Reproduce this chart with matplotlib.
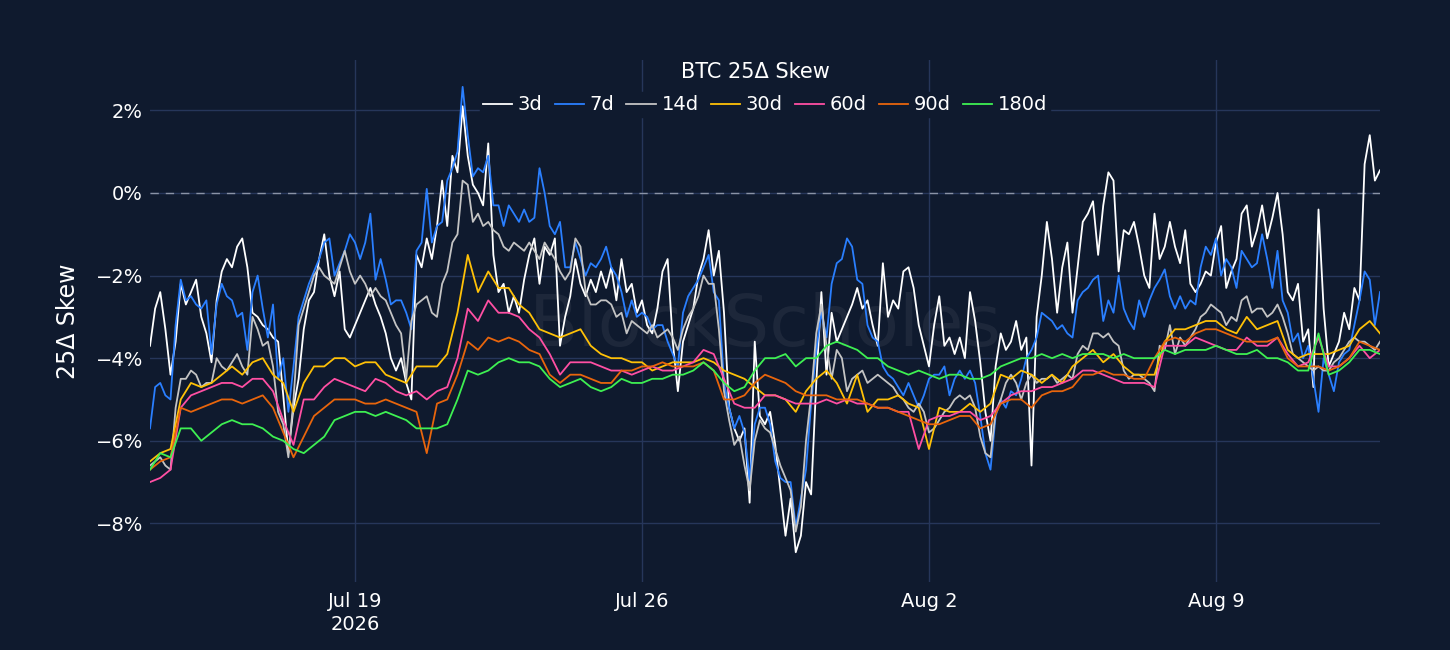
import numpy as np
import pandas as pd
import matplotlib
matplotlib.use("Agg")
import matplotlib.pyplot as plt
from matplotlib.ticker import FuncFormatter, MultipleLocator

# short tenors read every 3 hours, long tenors every 6 hours
# Jul 14 2026 00:00 -> Aug 13 2026 00:00
start = "2026-07-14"

skew_3d = [
    -3.7, -2.8, -2.4, -3.3, -4.4, -3.6, -2.2, -2.7, -2.4, -2.1, -3.0, -3.4,
    -4.1, -2.6, -1.9, -1.6, -1.8, -1.3, -1.1, -1.8, -2.9, -3.0, -3.2, -3.3,
    -3.5, -3.6, -4.9, -6.3, -5.2, -4.5, -3.3, -2.6, -2.4, -1.6, -1.0, -2.0,
    -2.5, -1.9, -3.3, -3.5, -3.2, -2.9, -2.6, -2.3, -2.7, -3.0, -3.4, -4.0,
    -4.3, -4.0, -4.6, -5.0, -1.5, -1.8, -1.1, -1.6, -0.8, 0.3, -0.8, 0.9,
    0.5, 2.1, 0.9, 0.2, 0.0, -0.3, 1.2, -1.5, -2.4, -2.2, -2.9, -2.5,
    -2.9, -2.1, -1.5, -1.1, -2.2, -1.3, -1.5, -1.1, -3.7, -3.0, -2.5, -1.6,
    -2.2, -2.5, -2.1, -2.4, -1.9, -2.3, -1.8, -2.6, -1.6, -2.4, -2.2, -2.9,
    -2.6, -3.2, -3.4, -2.8, -1.9, -1.6, -3.6, -4.8, -3.6, -3.2, -2.8, -2.0,
    -1.6, -0.9, -2.0, -1.4, -2.9, -5.2, -5.7, -6.0, -5.7, -7.5, -3.6, -5.4,
    -5.6, -5.3, -6.1, -7.2, -8.3, -7.4, -8.7, -8.3, -7.0, -7.3, -4.6, -2.4,
    -4.4, -2.9, -3.6, -3.3, -3.0, -2.7, -2.3, -2.8, -2.6, -3.2, -3.7, -1.7,
    -3.0, -2.6, -2.8, -1.9, -1.8, -2.3, -3.2, -3.7, -4.2, -3.2, -2.5, -3.7,
    -3.5, -3.9, -3.5, -4.0, -2.4, -3.1, -4.1, -5.3, -6.0, -4.2, -3.4, -3.8,
    -3.6, -3.1, -3.8, -3.5, -6.6, -3.0, -2.0, -0.7, -1.6, -2.9, -1.8, -1.2,
    -2.9, -1.8, -0.7, -0.5, -0.2, -1.5, -0.3, 0.5, 0.3, -1.9, -0.9, -1.0,
    -0.7, -1.3, -2.0, -2.3, -0.5, -1.6, -1.3, -0.7, -1.3, -1.7, -0.9, -2.2,
    -2.4, -2.2, -1.9, -2.0, -1.2, -0.8, -2.3, -1.9, -1.6, -0.5, -0.3, -1.3,
    -0.9, -0.3, -1.1, -0.6, 0.0, -1.0, -2.4, -2.6, -2.2, -3.6, -3.3, -4.7,
    -0.4, -2.8, -4.2, -3.9, -3.6, -2.9, -3.3, -2.3, -2.6, 0.7, 1.4, 0.3,
    0.55,
]
skew_7d = [
    -5.7, -4.7, -4.6, -4.9, -5.0, -3.2, -2.1, -2.6, -2.5, -2.7, -2.8, -2.6,
    -3.9, -2.7, -2.2, -2.5, -2.6, -3.0, -2.9, -3.8, -2.4, -2.0, -2.8, -3.5,
    -2.7, -4.5, -4.0, -5.3, -4.2, -3.0, -2.6, -2.2, -1.9, -1.6, -1.2, -1.1,
    -2.0, -1.7, -1.4, -1.0, -1.2, -1.6, -1.2, -0.5, -2.1, -1.6, -2.1, -2.7,
    -2.6, -2.6, -2.9, -3.3, -1.4, -1.2, 0.1, -1.2, -0.8, -0.7, 0.3, 0.6,
    1.0, 2.57, 1.4, 0.4, 0.6, 0.5, 0.9, -0.3, -0.3, -0.8, -0.3, -0.5,
    -0.7, -0.4, -0.7, -0.6, 0.6, 0.0, -0.8, -1.0, -0.7, -1.8, -1.8, -1.2,
    -1.6, -2.0, -1.7, -1.8, -1.6, -1.3, -1.8, -2.0, -2.4, -3.0, -2.6, -3.0,
    -2.9, -3.0, -3.3, -3.2, -3.2, -3.6, -3.9, -4.2, -2.9, -2.5, -2.3, -2.1,
    -1.8, -1.5, -2.4, -2.6, -4.6, -5.2, -5.7, -5.4, -5.8, -6.95, -5.6, -5.2,
    -5.2, -5.6, -6.5, -6.9, -7.0, -7.0, -8.1, -7.4, -6.7, -5.1, -3.8, -2.9,
    -3.5, -2.2, -1.7, -1.6, -1.1, -1.3, -2.1, -2.2, -3.2, -3.5, -3.6, -4.2,
    -4.4, -4.5, -4.7, -4.9, -4.6, -4.9, -5.2, -4.9, -4.5, -4.4, -4.4, -4.2,
    -4.9, -4.5, -4.3, -4.5, -4.3, -4.6, -5.4, -6.3, -6.7, -5.4, -5.0, -5.2,
    -4.8, -4.9, -4.5, -4.0, -3.8, -3.5, -2.9, -3.0, -3.1, -3.3, -3.2, -3.4,
    -3.5, -2.6, -2.4, -2.3, -2.1, -2.0, -3.1, -2.6, -2.9, -2.0, -2.8, -3.1,
    -3.3, -2.6, -3.0, -2.6, -2.3, -2.1, -1.85, -2.5, -2.8, -2.5, -2.8, -2.6,
    -2.7, -1.8, -1.3, -1.5, -1.1, -2.0, -1.6, -1.8, -2.3, -1.4, -1.6, -1.8,
    -1.7, -1.0, -1.6, -2.3, -1.4, -2.6, -2.9, -3.6, -3.4, -4.0, -3.7, -4.5,
    -5.3, -4.0, -4.4, -4.8, -4.1, -3.9, -3.8, -3.2, -2.6, -1.9, -2.1, -3.2,
    -2.4,
]
skew_14d = [
    -6.6, -6.5, -6.4, -6.6, -6.7, -5.2, -4.5, -4.5, -4.3, -4.4, -4.7, -4.6,
    -4.6, -4.0, -4.2, -4.3, -4.1, -3.9, -4.2, -4.4, -3.0, -3.3, -3.7, -3.6,
    -4.2, -5.3, -5.6, -6.4, -5.0, -3.2, -2.8, -2.4, -2.0, -1.8, -2.0, -2.1,
    -2.2, -1.8, -1.4, -1.9, -2.2, -2.0, -2.2, -2.5, -2.3, -2.5, -2.6, -2.9,
    -3.2, -3.4, -4.5, -3.1, -2.7, -2.6, -2.5, -2.9, -3.0, -2.2, -1.9, -1.2,
    -1.0, 0.3, 0.2, -0.7, -0.5, -0.8, -0.7, -0.9, -1.0, -1.3, -1.4, -1.2,
    -1.3, -1.4, -1.2, -1.4, -1.6, -1.2, -1.4, -1.6, -1.9, -2.1, -1.9, -1.1,
    -1.3, -2.4, -2.7, -2.7, -2.6, -2.6, -2.7, -3.0, -2.9, -3.4, -3.1, -3.2,
    -3.3, -3.4, -3.2, -3.5, -3.4, -3.3, -3.5, -3.8, -3.3, -3.0, -2.8, -2.5,
    -2.0, -2.2, -2.2, -3.3, -4.8, -5.5, -6.1, -5.9, -6.6, -7.2, -6.0, -5.5,
    -5.7, -5.8, -6.2, -6.6, -6.9, -7.2, -8.2, -7.6, -6.0, -4.9, -3.4, -2.7,
    -3.7, -4.5, -3.8, -4.0, -4.8, -4.5, -4.4, -4.3, -4.6, -4.5, -4.4, -4.5,
    -4.6, -4.7, -4.9, -5.0, -5.2, -5.3, -5.1, -5.3, -5.8, -5.7, -5.5, -5.3,
    -5.2, -5.0, -4.9, -5.0, -4.9, -5.2, -5.9, -6.3, -6.4, -5.3, -5.0, -4.6,
    -4.4, -4.6, -5.0, -4.6, -4.4, -4.6, -4.5, -4.5, -4.4, -4.6, -4.5, -4.4,
    -4.5, -3.9, -3.7, -3.8, -3.4, -3.4, -3.5, -3.4, -3.6, -3.7, -4.3, -4.5,
    -4.4, -4.4, -4.5, -4.6, -4.8, -3.7, -3.8, -3.2, -3.9, -3.5, -3.7, -3.5,
    -3.3, -3.0, -2.9, -2.7, -2.8, -2.9, -3.2, -3.0, -3.1, -2.6, -2.5, -2.9,
    -2.8, -2.8, -3.0, -2.9, -2.7, -3.0, -3.4, -3.9, -4.0, -4.1, -4.2, -4.3,
    -4.2, -4.3, -4.3, -4.1, -4.0, -3.8, -3.6, -3.5, -3.6, -3.6, -3.7, -3.8,
    -3.6,
]
skew_30d = [
    -6.5, -6.3, -6.2, -5.0, -4.6, -4.7, -4.6, -4.4, -4.2, -4.4, -4.1, -4.0,
    -4.4, -4.6, -5.3, -4.6, -4.2, -4.2, -4.0, -4.0, -4.2, -4.1, -4.1, -4.4,
    -4.5, -4.6, -4.2, -4.2, -4.2, -3.9, -2.9, -1.5, -2.4, -1.9, -2.3, -2.3,
    -2.7, -2.9, -3.3, -3.4, -3.5, -3.4, -3.3, -3.7, -3.9, -4.0, -4.0, -4.1,
    -4.1, -4.3, -4.2, -4.1, -4.1, -4.1, -4.0, -4.1, -4.3, -4.4, -4.5, -4.7,
    -4.9, -4.9, -5.0, -5.3, -4.8, -4.5, -4.3, -4.6, -5.1, -4.4, -5.3, -5.0,
    -5.0, -4.9, -5.1, -5.2, -6.2, -5.2, -5.3, -5.3, -5.1, -5.3, -5.1, -4.4,
    -4.5, -4.3, -4.4, -4.6, -4.4, -4.6, -4.2, -4.0, -3.8, -4.1, -3.9, -4.2,
    -4.4, -4.4, -4.4, -3.6, -3.3, -3.3, -3.2, -3.1, -3.1, -3.3, -3.4, -3.0,
    -3.3, -3.2, -3.1, -3.8, -4.0, -3.9, -3.9, -3.9, -3.8, -3.7, -3.3, -3.1,
    -3.4,
]
skew_60d = [
    -7.0, -6.9, -6.7, -5.2, -4.9, -4.8, -4.7, -4.6, -4.6, -4.7, -4.5, -4.5,
    -4.8, -5.5, -6.1, -5.0, -5.0, -4.7, -4.5, -4.6, -4.7, -4.8, -4.5, -4.6,
    -4.8, -4.9, -4.8, -5.0, -4.8, -4.7, -4.0, -2.8, -3.1, -2.6, -2.9, -2.9,
    -3.0, -3.3, -3.5, -3.9, -4.4, -4.1, -4.1, -4.1, -4.2, -4.3, -4.3, -4.4,
    -4.3, -4.2, -4.3, -4.3, -4.2, -4.1, -3.8, -3.9, -4.5, -5.1, -5.2, -5.2,
    -4.9, -4.9, -5.0, -5.1, -5.1, -5.1, -5.0, -5.1, -5.0, -5.1, -5.1, -5.2,
    -5.2, -5.3, -5.3, -6.2, -5.5, -5.4, -5.4, -5.3, -5.3, -5.5, -5.4, -5.1,
    -4.9, -4.8, -4.8, -4.7, -4.7, -4.6, -4.5, -4.3, -4.3, -4.4, -4.5, -4.6,
    -4.6, -4.6, -4.7, -3.7, -3.7, -3.7, -3.5, -3.6, -3.7, -3.8, -3.8, -3.5,
    -3.7, -3.7, -3.5, -3.9, -4.2, -4.1, -3.5, -4.2, -4.2, -4.0, -3.7, -4.0,
    -3.8,
]
skew_90d = [
    -6.7, -6.5, -6.4, -5.2, -5.3, -5.2, -5.1, -5.0, -5.0, -5.1, -5.0, -4.9,
    -5.2, -5.8, -6.4, -5.9, -5.4, -5.2, -5.0, -5.0, -5.0, -5.1, -5.1, -5.0,
    -5.1, -5.2, -5.3, -6.3, -5.1, -5.0, -4.4, -3.6, -3.8, -3.5, -3.6, -3.5,
    -3.6, -3.8, -3.9, -4.4, -4.6, -4.4, -4.4, -4.5, -4.6, -4.6, -4.3, -4.3,
    -4.2, -4.2, -4.1, -4.2, -4.2, -4.2, -4.1, -4.3, -5.0, -5.0, -4.9, -4.6,
    -4.4, -4.5, -4.6, -4.8, -4.9, -4.9, -4.9, -5.0, -5.0, -5.0, -5.1, -5.2,
    -5.2, -5.3, -5.4, -5.5, -5.6, -5.6, -5.5, -5.4, -5.4, -5.7, -5.6, -5.1,
    -5.0, -5.0, -5.2, -4.9, -4.8, -4.8, -4.7, -4.4, -4.4, -4.3, -4.4, -4.4,
    -4.5, -4.5, -4.0, -3.6, -3.5, -3.6, -3.4, -3.3, -3.3, -3.4, -3.5, -3.6,
    -3.6, -3.6, -3.5, -4.0, -4.2, -4.2, -4.2, -4.3, -4.2, -4.0, -3.6, -3.7,
    -3.8,
]
skew_180d = [
    -6.7, -6.3, -6.4, -5.7, -5.7, -6.0, -5.8, -5.6, -5.5, -5.6, -5.6, -5.7,
    -5.9, -6.0, -6.2, -6.3, -6.1, -5.9, -5.5, -5.4, -5.3, -5.3, -5.4, -5.3,
    -5.4, -5.5, -5.7, -5.7, -5.7, -5.6, -5.0, -4.3, -4.4, -4.3, -4.1, -4.0,
    -4.1, -4.1, -4.2, -4.5, -4.7, -4.6, -4.5, -4.7, -4.8, -4.7, -4.5, -4.6,
    -4.6, -4.5, -4.5, -4.4, -4.4, -4.3, -4.1, -4.3, -4.6, -4.8, -4.7, -4.3,
    -4.0, -4.0, -3.9, -4.2, -4.0, -4.0, -3.7, -3.6, -3.7, -3.8, -4.0, -4.0,
    -4.2, -4.3, -4.4, -4.3, -4.4, -4.5, -4.4, -4.4, -4.5, -4.5, -4.4, -4.2,
    -4.1, -4.0, -4.0, -3.9, -4.0, -3.9, -4.0, -3.9, -3.9, -3.9, -4.0, -3.9,
    -4.0, -4.0, -4.0, -3.8, -3.9, -3.8, -3.8, -3.8, -3.7, -3.8, -3.9, -3.9,
    -3.8, -4.0, -4.0, -4.1, -4.3, -4.3, -3.4, -4.4, -4.3, -4.1, -3.8, -3.8,
    -3.9,
]

tenors = ["3d", "7d", "14d", "30d", "60d", "90d", "180d"]
series = [skew_3d, skew_7d, skew_14d, skew_30d, skew_60d, skew_90d, skew_180d]
colors = ["#ffffff", "#2a7fff", "#c4c4c4", "#ffc107", "#ff4fa3", "#e8650c", "#3ef052"]

bg = "#0f1a2e"
grid_c = "#26365a"

times_3h = pd.date_range(start, periods=len(skew_3d), freq="3h")
times_6h = pd.date_range(start, periods=len(skew_30d), freq="6h")

fig = plt.figure(figsize=(14.5, 6.5), dpi=100, facecolor=bg)
ax = fig.add_axes([150 / 1450, 68 / 650, 1230 / 1450, 522 / 650])
ax.set_facecolor(bg)

for name, vals, c in zip(tenors, series, colors):
    t = times_3h if len(vals) == len(times_3h) else times_6h
    ax.plot(t, np.array(vals), color=c, lw=1.3, label=name, zorder=3)

ax.axhline(0, color="#8a93a6", lw=1, ls=(0, (6, 5)), zorder=2)

# faint watermark
ax.text(0.5, 0.49, "BlockScholes", transform=ax.transAxes, ha="center", va="center",
        fontsize=52, color="#ffffff", alpha=0.06, zorder=1)

ax.set_xlim(times_3h[0], times_3h[-1])
ax.set_ylim(-9.42, 3.22)
ax.yaxis.set_major_locator(MultipleLocator(2))
ax.yaxis.set_major_formatter(FuncFormatter(lambda v, p: f"{v:.0f}%".replace("-", "\u2212")))

xt = pd.to_datetime(["2026-07-19", "2026-07-26", "2026-08-02", "2026-08-09"])
ax.set_xticks(xt)
ax.set_xticklabels(["Jul 19\n2026", "Jul 26", "Aug 2", "Aug 9"])
for lbl in ax.get_xticklabels():
    lbl.set_linespacing(1.3)

ax.grid(True, color=grid_c, lw=1, zorder=0)
ax.set_axisbelow(True)
for s in ax.spines.values():
    s.set_visible(False)
ax.tick_params(colors="white", labelsize=14, length=0)
ax.tick_params(axis="x", pad=7)
ax.tick_params(axis="y", pad=5)
ax.set_ylabel("25Δ Skew", color="white", fontsize=17)
ax.yaxis.set_label_coords(-0.057, 0.5)

ax.text(0.492, 0.977, "BTC 25Δ Skew", transform=ax.transAxes, ha="center", va="center",
        color="white", fontsize=15)
leg = ax.legend(loc="center", bbox_to_anchor=(0.5, 0.914), ncol=7, frameon=True,
                facecolor=bg, edgecolor=bg, framealpha=1, fontsize=14,
                handlelength=1.5, handletextpad=0.3, columnspacing=0.62,
                borderpad=0.15)
leg.set_zorder(5)
for t in leg.get_texts():
    t.set_color("white")

fig.savefig("out.png", dpi=100, facecolor=bg)
